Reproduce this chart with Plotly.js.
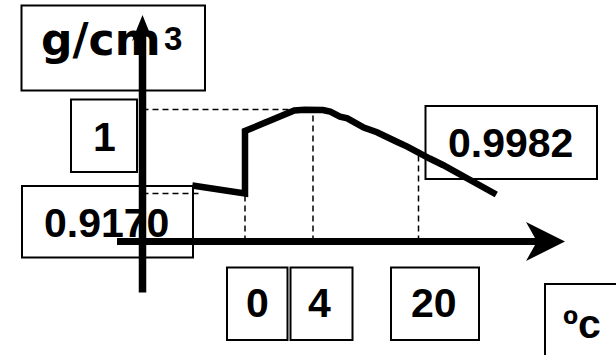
<!DOCTYPE html>
<html>
<head>
<meta charset="utf-8">
<script src="https://cdn.plot.ly/plotly-3.0.1.min.js"></script>
<style>
  html, body { margin: 0; padding: 0; background: #fff; }
  #chart { width: 616px; height: 355px; }
</style>
</head>
<body>
<div id="chart"></div>
<script>
// Density of ice and liquid water around the freezing point (schematic sketch).

// Temperatures marked on the horizontal axis (°C) and the density there (g/cm³)
const tempTicks = [0, 4, 20];
const tempTickText = ['0', '4', '20'];
const markDensity = [0.9170, 1, 0.9982];

// Densities marked beside the vertical axis (g/cm³)
const densityTicks = [1, 0.9170, 0.9982];
const densityTickText = ['1', '0.9170', '0.9982'];

// Ice, up to the melting point
const iceTemp = [-3.1, 0];
const iceDensity = [0.9332, 0.9170];

// Liquid water, from the melting point upward
const waterTemp = [0, 1.2, 2.4, 2.9, 3.5, 4, 5.5, 6.6, 8.1, 9.2, 10.7, 11.7,
                   13.7, 15.2, 16.7, 18.3, 20, 21.7, 23.7, 25.2, 26.6, 27.8, 29.8, 31.8];
const waterDensity = [0.99912, 0.99949, 0.99984, 0.99996, 0.99999, 1, 0.99998, 0.99991,
                      0.99971, 0.99964, 0.99939, 0.99926, 0.99907, 0.99885, 0.99868, 0.99848,
                      0.9982, 0.98805, 0.97486, 0.96369, 0.95151, 0.94238, 0.92817, 0.91497];

// ---- layout -------------------------------------------------------------
const W = 616, H = 355;
const FONT = 'Liberation Sans, Arial, Helvetica, sans-serif';
const WIDE_FONT = 'DejaVu Sans, Verdana, sans-serif';
const LABEL_SIZE = 41;

// The sketch is not to scale: the marked values sit at fixed places on each
// axis and the stretch between two marked values is linear.
const X_FROM = [0, 4, 20],            X_TO = [0, 4, 10.206];
const Y_FROM = [0.917, 0.9982, 1],    Y_TO = [0.917, 0.95652, 1];
const X_RANGE = [-14.412, 21.824];
const Y_RANGE = [0.75742, 1.10820];

function stretch(v, from, to) {
  const i = v > from[1] ? 1 : 0;
  const k = (to[i + 1] - to[i]) / (from[i + 1] - from[i]);
  return to[i] + (v - from[i]) * k;
}
const sx = t => stretch(t, X_FROM, X_TO);
const sy = d => stretch(d, Y_FROM, Y_TO);

// page pixel -> paper / axis units
const px = x => x / W;
const py = y => 1 - y / H;
const axX = x => X_RANGE[0] + x / W * (X_RANGE[1] - X_RANGE[0]);
const axY = y => Y_RANGE[1] - y / H * (Y_RANGE[1] - Y_RANGE[0]);

// the two drawn axes
const V_AXIS = { x: 142.5, top: 15, bottom: 292.5 };
const H_AXIS = { y: 241.5, left: 117, tip: 565 };
const ICE_GUIDE_END = -2.5;   // the 0.9170 guide stops short of the ice line

// ---- traces -------------------------------------------------------------
const dashStyle = { color: '#000', width: 1.5, dash: '6px,4px' };
const traces = [];

// vertical drops from each marked temperature to the axis
tempTicks.forEach((t, i) => {
  traces.push({
    type: 'scatter', mode: 'lines', hoverinfo: 'skip',
    x: [sx(t), sx(t)], y: [axY(H_AXIS.y), sy(markDensity[i])],
    line: dashStyle
  });
});
// horizontal guides to the vertical axis
traces.push({
  type: 'scatter', mode: 'lines', hoverinfo: 'skip',
  x: [axX(V_AXIS.x), sx(tempTicks[1])], y: [sy(densityTicks[0]), sy(densityTicks[0])],
  line: dashStyle
});
traces.push({
  type: 'scatter', mode: 'lines', hoverinfo: 'skip',
  x: [axX(V_AXIS.x), sx(ICE_GUIDE_END)], y: [sy(densityTicks[1]), sy(densityTicks[1])],
  line: dashStyle
});

// density curve: ice, the jump on melting, then liquid water
const curveT = iceTemp.concat(waterTemp);
const curveD = iceDensity.concat(waterDensity);
traces.push({
  type: 'scatter', mode: 'lines', hoverinfo: 'skip',
  x: curveT.map(sx), y: curveD.map(sy),
  line: { color: '#000', width: 6.5 }
});

// ---- frame: boxes, axes, arrow heads ------------------------------------
const shapes = [];
function box(l, t, r, b) {
  shapes.push({
    type: 'rect', xref: 'paper', yref: 'paper',
    x0: px(l), x1: px(r), y0: py(b), y1: py(t),
    line: { color: '#000', width: 2 }, fillcolor: 'rgba(0,0,0,0)'
  });
}
box(21.5, 5.5, 205, 90.5);      // unit of density
box(71, 99.5, 137, 172);        // 1
box(22, 186, 193, 257.5);       // 0.9170
box(425.5, 106, 597, 179);      // 0.9982
box(227, 267.5, 287.5, 340);    // 0
box(290.5, 267.5, 352.5, 340);  // 4
box(391, 267.5, 479, 340);      // 20
box(545, 284, 700, 420);        // unit of temperature

// axis shafts
shapes.push({
  type: 'line', xref: 'paper', yref: 'paper',
  x0: px(V_AXIS.x), x1: px(V_AXIS.x), y0: py(V_AXIS.bottom), y1: py(V_AXIS.top + 18),
  line: { color: '#000', width: 7.5 }
});
shapes.push({
  type: 'line', xref: 'paper', yref: 'paper',
  x0: px(H_AXIS.left), x1: px(H_AXIS.tip - 30), y0: py(H_AXIS.y), y1: py(H_AXIS.y),
  line: { color: '#000', width: 7 }
});
// arrow heads, drawn in pixels around each tip
shapes.push({
  type: 'path', xref: 'paper', yref: 'paper',
  xsizemode: 'pixel', ysizemode: 'pixel',
  xanchor: px(V_AXIS.x), yanchor: py(V_AXIS.top),
  path: 'M0,0 L-10.5,-26 L-3.5,-20 L3.5,-20 L10.5,-26 Z',
  fillcolor: '#000', line: { width: 0 }
});
shapes.push({
  type: 'path', xref: 'paper', yref: 'paper',
  xsizemode: 'pixel', ysizemode: 'pixel',
  xanchor: px(H_AXIS.tip), yanchor: py(H_AXIS.y),
  path: 'M0,0 L-39,19.5 L-30,3.5 L-30,-3.5 L-39,-19.5 Z',
  fillcolor: '#000', line: { width: 0 }
});

// ---- labels ---------------------------------------------------------------
const annotations = [];
function label(text, cx, baseline, size, family) {
  size = size || LABEL_SIZE;
  annotations.push({
    text: text, xref: 'paper', yref: 'paper',
    x: px(cx), y: py(baseline - 0.35 * size),
    xanchor: 'center', yanchor: 'middle', showarrow: false,
    font: { family: family || FONT, size: size, color: '#000', weight: 700 }
  });
}
label('g/cm', 101, 55, 44, WIDE_FONT);
label('3', 173, 50, 33, FONT);
label(densityTickText[0], 104, 151);
label(densityTickText[1], 106, 237);
label(densityTickText[2], 510, 157);
label(tempTickText[0], 257, 317);
label(tempTickText[1], 319, 317);
label(tempTickText[2], 434, 317);
label('\u00bac', 582, 338);

const layout = {
  width: W, height: H,
  margin: { l: 0, r: 0, t: 0, b: 0 },
  paper_bgcolor: '#fff', plot_bgcolor: '#fff',
  showlegend: false,
  xaxis: { range: X_RANGE, visible: false, fixedrange: true },
  yaxis: { range: Y_RANGE, visible: false, fixedrange: true },
  shapes: shapes,
  annotations: annotations
};

Plotly.newPlot('chart', traces, layout, { displayModeBar: false, staticPlot: true });
</script>
</body>
</html>
